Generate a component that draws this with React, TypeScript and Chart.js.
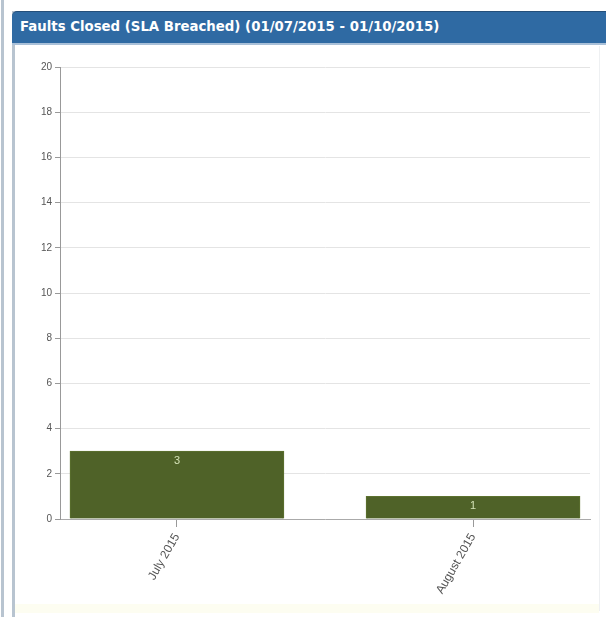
import React, { useEffect, useRef } from "react";
import { Chart, registerables } from "chart.js";

Chart.register(...registerables);

const categories = ["July 2015", "August 2015"];
const values = [3, 1];
const yTicks = [0, 2, 4, 6, 8, 10, 12, 14, 16, 18, 20];
const title = "Faults Closed (SLA Breached) (01/07/2015 - 01/10/2015)";

const valueLabels = {
  id: "valueLabels",
  afterDatasetsDraw(chart: any) {
    const ctx = chart.ctx;
    const meta = chart.getDatasetMeta(0);
    ctx.save();
    ctx.fillStyle = "#d4e2b6";
    ctx.font = "11px 'Liberation Sans', Arial, sans-serif";
    ctx.textAlign = "center";
    ctx.textBaseline = "top";
    meta.data.forEach((el: any, i: number) => {
      ctx.fillText(String(values[i]), el.x, el.y + 4);
    });
    ctx.restore();
  },
};

export default function App() {
  const ref = useRef<HTMLCanvasElement | null>(null);
  useEffect(() => {
    if (!ref.current) return;
    const chart = new Chart(ref.current, {
      type: "bar",
      data: {
        datasets: [
          {
            data: values.map((v, i) => ({ x: i, y: v })),
            backgroundColor: "#4f6228",
            borderColor: "#5d722f",
            borderWidth: 1,
            barThickness: 214,
          },
        ],
      },
      options: {
        animation: false,
        responsive: false,
        maintainAspectRatio: false,
        layout: { padding: { top: 20, right: 10, left: 0, bottom: 0 } },
        plugins: { legend: { display: false }, tooltip: { enabled: false } },
        scales: {
          x: {
            type: "linear",
            offset: false,
            min: -0.395,
            max: 1.395,
            afterBuildTicks: (scale: any) => {
              scale.ticks = categories.map((_, i) => ({ value: i }));
            },
            afterFit: (scale: any) => {
              scale.height = 86;
            },
            ticks: {
              minRotation: 60,
              maxRotation: 60,
              color: "#555",
              font: { family: "'Liberation Sans', Arial, sans-serif", size: 12 },
              padding: 4,
              callback: (v: any) => categories[v as number] ?? "",
            },
            grid: { offset: false, drawOnChartArea: false, tickLength: 8, color: "#999" },
            border: { color: "#aaa" },
          },
          y: {
            min: 0,
            max: 20,
            afterBuildTicks: (scale: any) => {
              scale.ticks = yTicks.map((v) => ({ value: v }));
            },
            afterFit: (scale: any) => {
              scale.width = 45;
            },
            ticks: {
              color: "#555",
              font: { family: "'Liberation Sans', Arial, sans-serif", size: 10 },
              padding: 3,
            },
            grid: { color: "#e4e4e4", tickLength: 5, tickColor: "#999" },
            border: { color: "#999" },
          },
        },
      },
      plugins: [valueLabels],
    } as any);
    return () => chart.destroy();
  }, []);

  return (
    <div style={{ position: "fixed", left: 0, top: 0, width: 606, height: 617, background: "#fff", overflow: "hidden" }}>
      <div style={{ position: "absolute", left: 1, top: 0, width: 3, height: 617, background: "#b8c4d0" }} />
      <div style={{ position: "absolute", left: 12, top: 11, width: 3, height: 606, background: "#b8c4d0" }} />
      <div style={{ position: "absolute", left: 599, top: 46, width: 1, height: 565, background: "#eef0f2" }} />
      <div style={{ position: "absolute", left: 15, top: 604, width: 584, height: 9, background: "#fdfdf1" }} />
      <div
        style={{
          position: "absolute",
          left: 12,
          top: 11,
          width: 594,
          height: 34,
          background: "#2f6aa3",
          borderTopLeftRadius: 5,
          borderTop: "1px solid #244f7a",
          borderBottom: "2px solid #a9c0d8",
          boxSizing: "border-box",
        }}
      >
        <div
          style={{
            position: "absolute",
            left: 8,
            top: 7,
            color: "#fff",
            fontFamily: "'DejaVu Sans', Verdana, sans-serif",
            fontWeight: "bold",
            fontSize: 13.3,
            whiteSpace: "nowrap",
          }}
        >
          {title}
        </div>
      </div>
      <canvas ref={ref} width={585} height={558} style={{ position: "absolute", left: 15, top: 47 }} />
    </div>
  );
}
